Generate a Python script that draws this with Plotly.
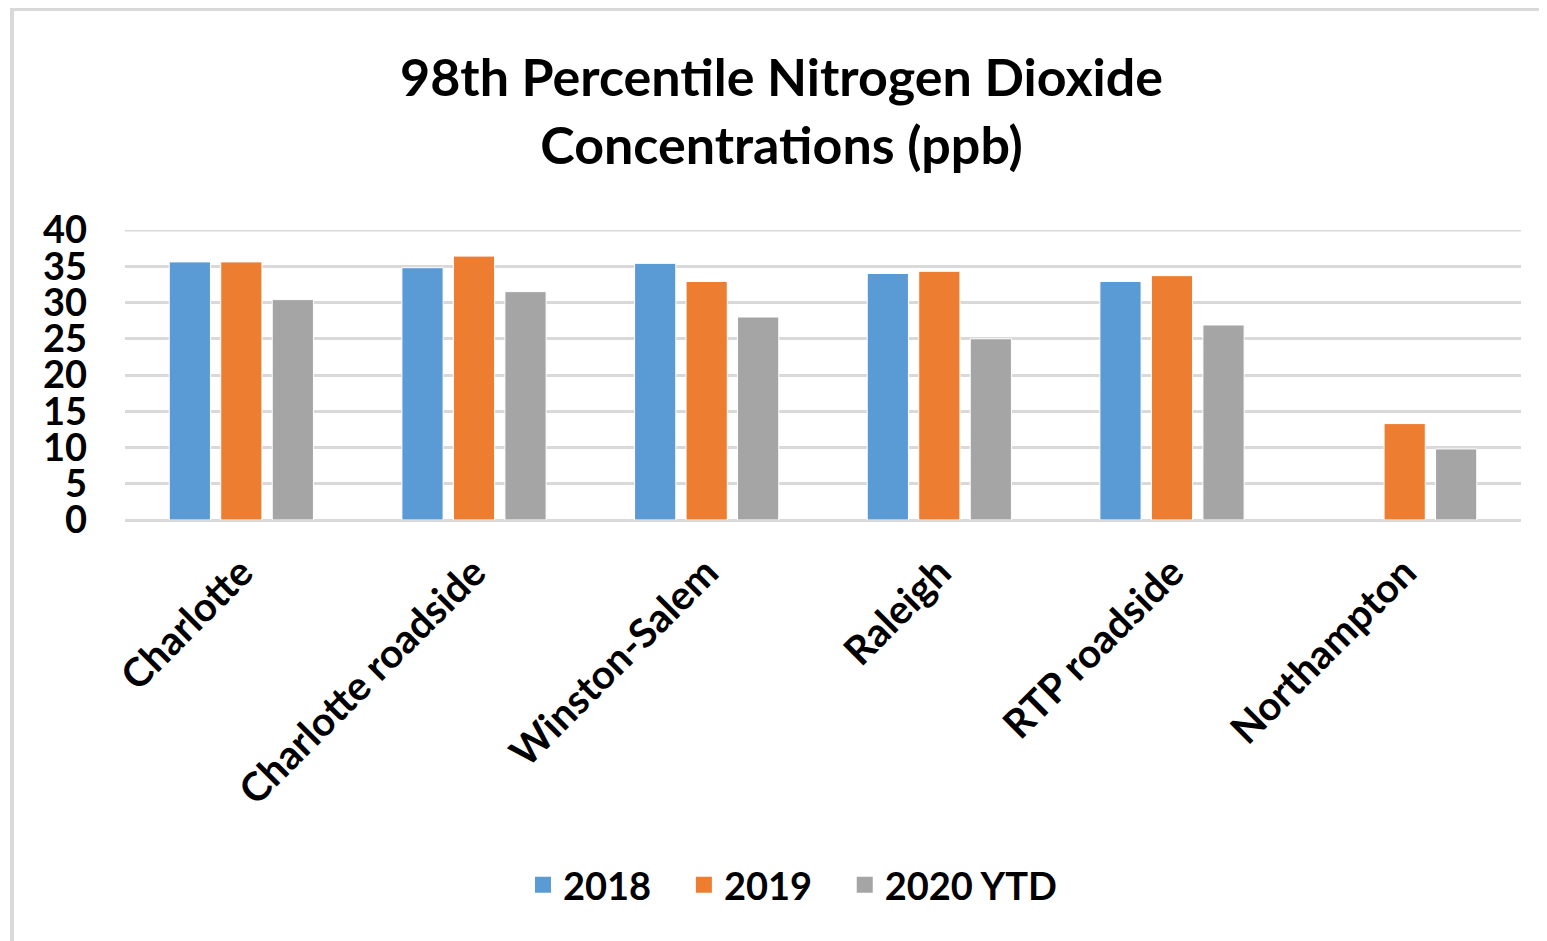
import plotly.graph_objects as go

categories = ["Charlotte", "Charlotte roadside", "Winston-Salem", "Raleigh", "RTP roadside", "Northampton"]
v2018 = [35.6, 34.8, 35.4, 34.0, 32.9, None]
v2019 = [35.6, 36.4, 32.9, 34.3, 33.7, 13.3]
v2020 = [30.4, 31.5, 28.0, 25.0, 26.9, 9.8]
series_names = ["2018", "2019", "2020 YTD"]
colors = ["#5B9BD5", "#ED7D31", "#A5A5A5"]
y_ticks = [0, 5, 10, 15, 20, 25, 30, 35, 40]

W, H = 1547, 941
ml, mr, mt, mb = 117, 34, 222, 429
pw, ph = W - ml - mr, H - mt - mb
font = "Lato"
pad = "\u00a0" * 3

fig = go.Figure()
for name, vals, c in zip(series_names, [v2018, v2019, v2020], colors):
    fig.add_trace(go.Bar(x=categories, y=vals, name=name, showlegend=False,
                         marker=dict(color=c, line=dict(color="white", width=1))))
# legend entries with square swatches
for i, (name, c) in enumerate(zip(series_names, colors)):
    label = name + (pad if i < len(series_names) - 1 else "")
    fig.add_trace(go.Scatter(x=[None], y=[None], mode="markers", name=label,
                             marker=dict(symbol="square", size=22, color=c),
                             showlegend=True))

def px_x(x):
    return (x - ml) / pw

def px_y(y):
    return (H - mb - y) / ph

fig.update_layout(
    width=W, height=H,
    margin=dict(l=ml, r=mr, t=mt, b=mb, autoexpand=False),
    paper_bgcolor="white", plot_bgcolor="white",
    barmode="group", bargap=0.336, bargroupgap=0.2,
    title=dict(text="<b>98th Percentile Nitrogen Dioxide<br>Concentrations (ppb)</b>",
               x=0.5, xanchor="center", y=1 - 88 / H, yanchor="middle",
               font=dict(family=font, size=52, color="black")),
    xaxis=dict(tickangle=-45, tickfont=dict(family=font, size=40, color="black", weight="bold"),
               showgrid=False, showline=False, ticks="", zeroline=False,
               ticklabelstandoff=20),
    yaxis=dict(range=[0, 40], tickvals=y_ticks, ticktext=[str(t) for t in y_ticks],
               tickfont=dict(family=font, size=38, color="black", weight="bold"),
               showgrid=True, gridcolor="#D9D9D9", gridwidth=3,
               zeroline=True, zerolinecolor="#D9D9D9", zerolinewidth=3,
               showline=False, ticks="", ticklabelstandoff=37),
    legend=dict(orientation="h", x=px_x(515), xanchor="left", y=px_y(877), yanchor="middle",
                font=dict(family=font, size=38, color="black", weight="bold"),
                itemwidth=30, traceorder="normal"),
    showlegend=True,
    shapes=[
        dict(type="line", xref="paper", yref="y", x0=0, x1=1, y0=40, y1=40,
             line=dict(color="#D9D9D9", width=3), layer="below"),
        dict(type="line", xref="paper", yref="paper",
             x0=px_x(4), x1=px_x(4), y0=px_y(0), y1=px_y(H + 10),
             line=dict(color="#D9D9D9", width=4), layer="below"),
        dict(type="line", xref="paper", yref="paper",
             x0=px_x(2), x1=px_x(W + 10), y0=px_y(1), y1=px_y(1),
             line=dict(color="#D9D9D9", width=4), layer="below"),
    ],
)

fig.write_html("out.html")
